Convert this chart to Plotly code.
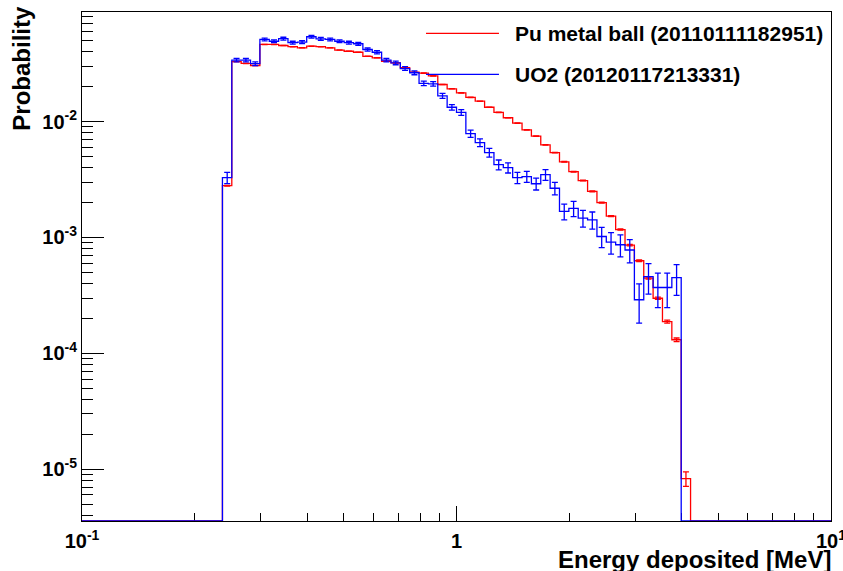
import numpy as np
import plotly.graph_objects as go

# ---------------- data ----------------
# log-spaced binning: 80 bins from 0.1 to 10 MeV (40 bins / decade)
n_bins = 80
x_lo, x_hi = 0.1, 10.0
first_bin = 15  # index of first non-empty bin

# Pu metal ball (20110111182951) - bins 15..64
pu_values = [
    0.0028, 0.0330, 0.0318, 0.0305, 0.0464, 0.0464, 0.0454, 0.0443, 0.0433, 0.0448,
    0.0443, 0.0433, 0.0414, 0.0405, 0.0397, 0.0366, 0.0355, 0.0332, 0.0321, 0.0292,
    0.0267, 0.0262, 0.0248, 0.0209, 0.0192, 0.0177, 0.0162, 0.0150, 0.0133, 0.0120,
    0.0108, 0.0097, 0.0085, 0.0075, 0.0063, 0.0054, 0.0045, 0.0037, 0.0031, 0.0025,
    0.0020, 0.00153, 0.00117, 0.00086, 0.00063, 0.000446, 0.000299, 0.000188, 0.000131, 8.3e-6,
]
# UO2 (20120117213331) - bins 15..63
uo2_values = [
    0.00328, 0.0339, 0.0339, 0.0316, 0.0512, 0.0494, 0.0520, 0.0480, 0.0485, 0.0540,
    0.0518, 0.0512, 0.0494, 0.0480, 0.0470, 0.0419, 0.0397, 0.0339, 0.0321, 0.0287,
    0.0264, 0.0214, 0.0212, 0.0167, 0.0133, 0.0120, 0.00788, 0.00659, 0.00540, 0.00425,
    0.00400, 0.00328, 0.00335, 0.00291, 0.00348, 0.00266, 0.00168, 0.00178, 0.00147, 0.00142,
    0.00102, 0.00091, 0.000865, 0.00078, 0.00029, 0.00046, 0.00037, 0.00037, 0.00045,
]
# number of entries behind each normalised histogram (Poisson errors)
pu_entries = 5.9e6
uo2_entries = 25000

series_names = ["Pu metal ball (20110111182951)", "UO2 (20120117213331)"]
series_colors = ["#ff0000", "#0000ff"]

x_tick_vals = [0.1, 1, 10]
x_tick_text = ["10<sup>-1</sup>", "1", "10<sup>1</sup>"]
y_tick_vals = [1e-5, 1e-4, 1e-3, 1e-2]
y_tick_text = ["10<sup>-5</sup>", "10<sup>-4</sup>", "10<sup>-3</sup>", "10<sup>-2</sup>"]

x_title = "Energy deposited [MeV]"
y_title = "Probability"

y_log_range = [-5.447, -1.054]

# ---------------- figure ----------------
edges = np.logspace(np.log10(x_lo), np.log10(x_hi), n_bins + 1)
centers = 0.5 * (edges[:-1] + edges[1:])
y_floor = 10 ** y_log_range[0]

FONT = "Liberation Sans, Arial, Helvetica, sans-serif"

fig = go.Figure()


def add_hist(values, entries, color):
    full = np.zeros(n_bins)
    full[first_bin:first_bin + len(values)] = values
    shown = np.where(full > 0, full, y_floor)
    ys = np.append(shown, shown[-1])
    fig.add_trace(go.Scatter(
        x=edges, y=ys, mode="lines", line=dict(color=color, width=1.3, shape="hv"),
        hoverinfo="skip", showlegend=False,
    ))
    vals = np.array(values)
    idx = np.arange(first_bin, first_bin + len(values))
    errs = np.sqrt(vals / entries)
    fig.add_trace(go.Scatter(
        x=centers[idx], y=vals, mode="markers",
        marker=dict(size=0.1, color=color),
        error_y=dict(type="data", array=errs, visible=True, color=color,
                     thickness=1.3, width=3),
        hoverinfo="skip", showlegend=False,
    ))


add_hist(pu_values, pu_entries, series_colors[0])
add_hist(uo2_values, uo2_entries, series_colors[1])

x_minor = [m * 10 ** d for d in (-1, 0) for m in range(2, 10)]
y_minor = [m * 10 ** d for d in (-6, -5, -4, -3, -2) for m in range(2, 10)
           if 10 ** y_log_range[0] < m * 10 ** d < 10 ** y_log_range[1]]

tickfont = dict(family=FONT, size=20, color="black", weight="bold")

fig.update_xaxes(
    type="log", range=[-1, 1], showline=True, linecolor="black", linewidth=1,
    mirror=True, ticks="inside", ticklen=15, tickcolor="black", tickwidth=1,
    tickvals=x_tick_vals, ticktext=x_tick_text, tickfont=tickfont,
    ticklabeloverflow="allow", ticklabelstandoff=2,
    showgrid=False, zeroline=False, layer="below traces", automargin=False,
    minor=dict(ticks="inside", ticklen=8, tickcolor="black", tickwidth=1,
               tickvals=x_minor, showgrid=False),
)
fig.update_yaxes(
    type="log", range=y_log_range, showline=True, linecolor="black", linewidth=1,
    mirror=True, ticks="inside", ticklen=22, tickcolor="black", tickwidth=1,
    tickvals=y_tick_vals, ticktext=y_tick_text, tickfont=tickfont,
    ticklabeloverflow="allow",
    showgrid=False, zeroline=False, automargin=False,
    minor=dict(ticks="inside", ticklen=11, tickcolor="black", tickwidth=1,
               tickvals=y_minor, showgrid=False),
)

# legend (no box): line sample + bold label
leg_y = [0.958, 0.8776]
for name, color, yy in zip(series_names, series_colors, leg_y):
    fig.add_shape(type="line", xref="paper", yref="paper", x0=0.4593, x1=0.5567,
                  y0=yy, y1=yy, line=dict(color=color, width=1.3))
    fig.add_annotation(xref="paper", yref="paper", x=0.5753, y=yy, text=name,
                       showarrow=False, xanchor="left", yanchor="middle",
                       font=dict(family=FONT, size=21, color="black", weight="bold"))

# axis titles
fig.add_annotation(xref="paper", yref="paper", x=1.003, y=-0.0766, text=x_title,
                   showarrow=False, xanchor="right", yanchor="middle",
                   font=dict(family=FONT, size=24, color="black", weight="bold"))
fig.add_annotation(xref="paper", yref="paper", x=-0.081, y=1.016, text=y_title,
                   showarrow=False, xanchor="center", yanchor="top", textangle=-90,
                   font=dict(family=FONT, size=24, color="black", weight="bold"))

fig.update_layout(
    width=843, height=571, margin=dict(l=82, r=12, t=12, b=50),
    plot_bgcolor="white", paper_bgcolor="white", showlegend=False,
)

fig.write_html(
    "out.html",
    config={"displayModeBar": False},
    post_script="document.body.style.margin='0';document.body.style.overflow='hidden';",
)
